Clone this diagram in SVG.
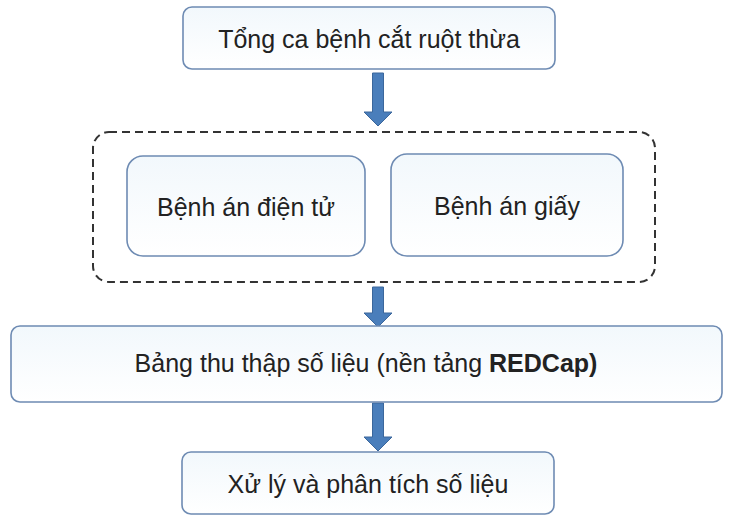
<svg xmlns="http://www.w3.org/2000/svg" width="732" height="516" viewBox="0 0 732 516">
<defs>
<linearGradient id="fill" x1="0" y1="0" x2="0" y2="1">
<stop offset="0" stop-color="#f2f8fc"/>
<stop offset="1" stop-color="#ffffff"/>
</linearGradient>
</defs>
<style>
.box{fill:url(#fill);stroke:#6e8bb3;stroke-width:1.6}
.grp{fill:none;stroke:#333;stroke-width:2;stroke-dasharray:8 5}
.t{font-family:"Liberation Sans",Arial,sans-serif;font-size:25px;fill:#222;text-anchor:middle}
.a{fill:#4a7ebb;stroke:#3b679c;stroke-width:1}
</style>
<rect width="732" height="516" fill="#ffffff"/>
<g id="connectors">
<path class="a" d="M372.5,73 H383.5 V112 H392 L378,126 L364,112 H372.5 Z"/>
<path class="a" d="M372.5,287 H383.5 V313 H392 L378,327 L364,313 H372.5 Z"/>
<path class="a" d="M372.5,403 H383.5 V437 H392 L378,451 L364,437 H372.5 Z"/>
</g>
<g id="tong">
<rect class="box" x="183" y="7" width="372" height="62" rx="9"/>
<text class="t" x="369" y="48">Tổng ca bệnh cắt ruột thừa</text>
</g>
<g id="benh-an">
<rect class="grp" x="93" y="132" width="562" height="150" rx="16"/>
</g>
<g id="dien-tu">
<rect class="box" x="127" y="156" width="238" height="100" rx="16"/>
<text class="t" x="246" y="216">Bệnh án điện tử</text>
</g>
<g id="giay">
<rect class="box" x="391" y="154" width="232" height="102" rx="16"/>
<text class="t" x="507" y="215">Bệnh án giấy</text>
</g>
<g id="redcap">
<rect class="box" x="11" y="326" width="711" height="76" rx="9"/>
<text class="t" x="366" y="372">Bảng thu thập số liệu (nền tảng <tspan font-weight="bold">REDCap)</tspan></text>
</g>
<g id="xu-ly">
<rect class="box" x="182" y="452" width="372" height="62" rx="9"/>
<text class="t" x="368" y="493">Xử lý và phân tích số liệu</text>
</g>
</svg>
